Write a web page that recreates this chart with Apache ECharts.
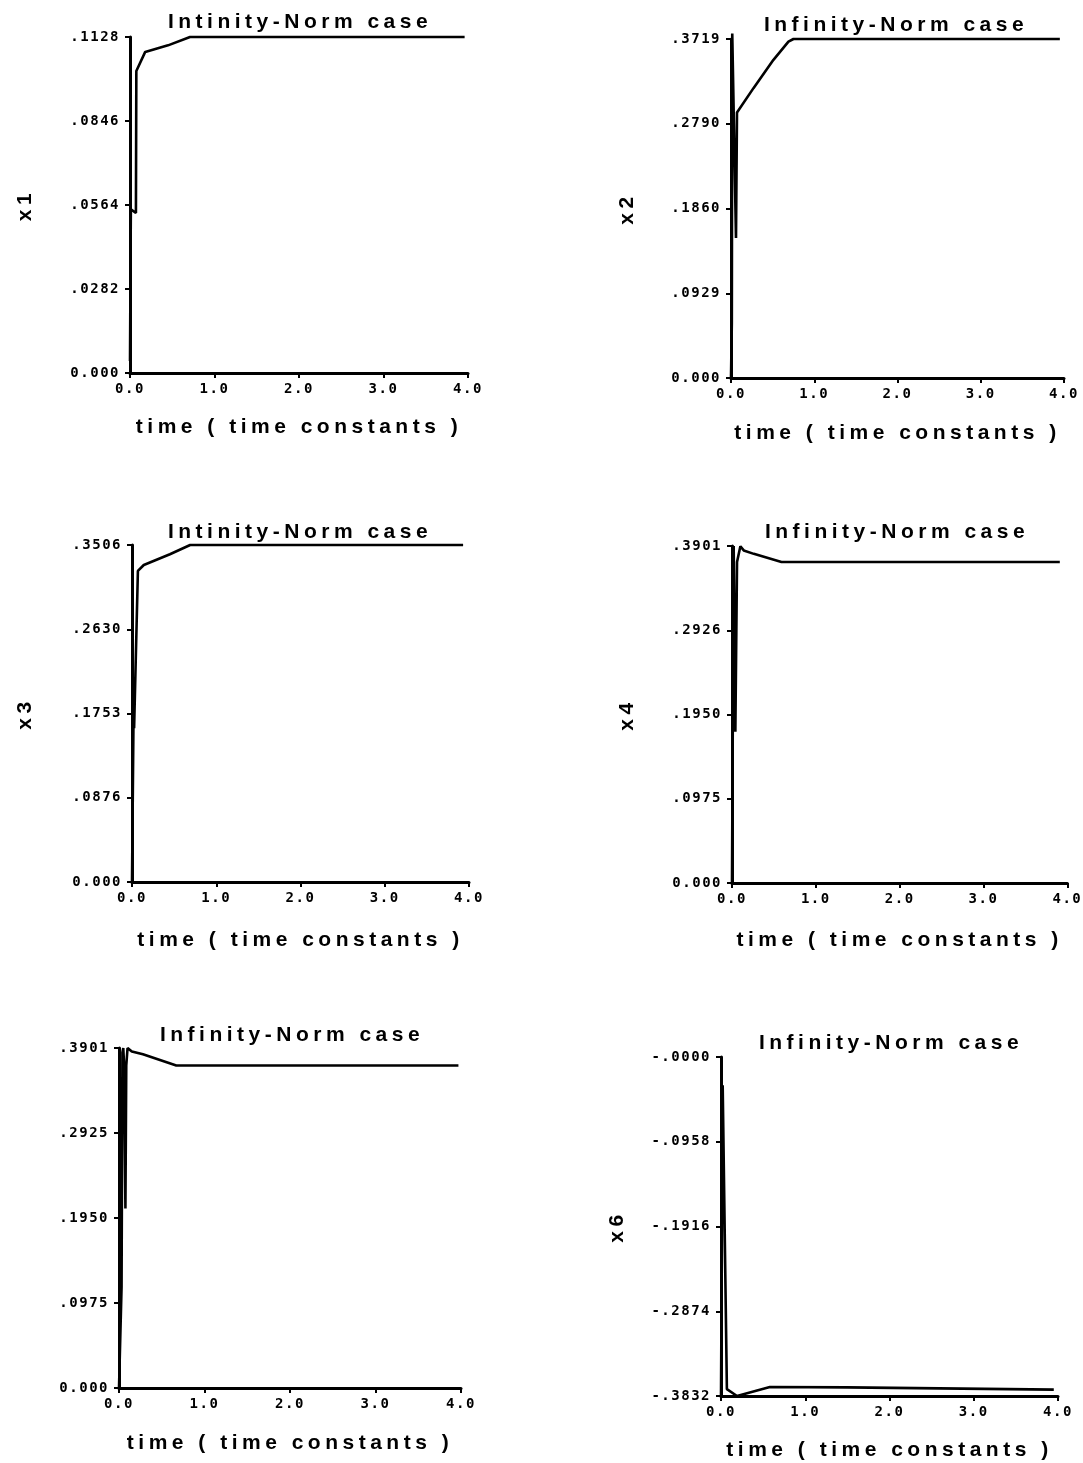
<!DOCTYPE html>
<html><head><meta charset="utf-8">
<script src="https://cdn.jsdelivr.net/npm/echarts@6/dist/echarts.min.js"></script>
<style>html,body{margin:0;padding:0;background:#fff}#c{width:1083px;height:1463px}</style>
</head><body><div id="c"></div>
<script>
// ---------------- data ----------------
const xTickLabels = ["0.0", "1.0", "2.0", "3.0", "4.0"];
const titles = ["Intinity-Norm case", "Infinity-Norm case", "Intinity-Norm case",
                "Infinity-Norm case", "Infinity-Norm case", "Infinity-Norm case"];
const yNames = ["x1", "x2", "x3", "x4", "", "x6"];
const xName = "time ( time constants )";

const yTicks1 = ["0.000", ".0282", ".0564", ".0846", ".1128"];
const yTicks2 = ["0.000", ".0929", ".1860", ".2790", ".3719"];
const yTicks3 = ["0.000", ".0876", ".1753", ".2630", ".3506"];
const yTicks4 = ["0.000", ".0975", ".1950", ".2926", ".3901"];
const yTicks5 = ["0.000", ".0975", ".1950", ".2925", ".3901"];
const yTicks6 = ["-.3832", "-.2874", "-.1916", "-.0958", "-.0000"];

const yMin = [0, 0, 0, 0, 0, -0.3832];
const yMax = [0.1128, 0.3719, 0.3506, 0.3901, 0.3901, 0];

// [time, value]
const x1 = [[0, 0.004], [0.01, 0.055], [0.07, 0.0537], [0.075, 0.1014], [0.18, 0.1078], [0.45, 0.1100], [0.71, 0.1128], [3.96, 0.1128]];
const x2 = [[0, 0], [0.01, 0.06], [0.015, 0.378], [0.06, 0.1535], [0.072, 0.2912], [0.27, 0.318], [0.51, 0.349], [0.69, 0.369], [0.75, 0.3719], [3.95, 0.3719]];
const x3 = [[0, 0], [0.02, 0.19], [0.025, 0.16], [0.07, 0.3236], [0.14, 0.3298], [0.45, 0.341], [0.69, 0.3506], [3.93, 0.3506]];
const x4 = [[0, 0], [0.02, 0.3901], [0.04, 0.175], [0.06, 0.3715], [0.08, 0.3715], [0.10, 0.3898], [0.14, 0.385], [0.26, 0.381], [0.59, 0.3715], [3.91, 0.3715]];
const x5 = [[0, 0], [0.03, 0.116], [0.04, 0.385], [0.05, 0.39], [0.06, 0.37], [0.075, 0.206], [0.085, 0.37], [0.10, 0.3901], [0.15, 0.386], [0.28, 0.383], [0.67, 0.370], [3.97, 0.370]];
const x6 = [[0, -0.3832], [0.01, -0.2204], [0.02, -0.032], [0.035, -0.032], [0.07, -0.3755], [0.19, -0.3832], [0.58, -0.373], [1.5, -0.3735], [3.95, -0.376]];

const seriesData = [x1, x2, x3, x4, x5, x6];
const yTicks = [yTicks1, yTicks2, yTicks3, yTicks4, yTicks5, yTicks6];

// ---------------- layout ----------------
const grids = [
  {left: 130, top: 37, width: 338, height: 336},
  {left: 731, top: 39, width: 333, height: 339},
  {left: 132, top: 545, width: 337, height: 337},
  {left: 732, top: 546, width: 337, height: 337},
  {left: 119, top: 1048, width: 342, height: 340},
  {left: 721, top: 1057, width: 337, height: 339}
];
const titlePos = [[300, 22], [896, 25], [300, 532], [897, 532], [292, 1035], [891, 1043]];
const yNameGap = [94, 93, 96, 94, 94, 93];
const xNameGap = [44, 45, 48, 47, 45, 44];

// wider letter spacing like the plotter lettering
(function () {
  const P = CanvasRenderingContext2D.prototype;
  const f = P.fillText;
  P.fillText = function (t, x, y, w) {
    const m = /(\d+(?:\.\d+)?)px/.exec(this.font || '');
    const sz = m ? parseFloat(m[1]) : 12;
    try { this.letterSpacing = sz >= 18 ? '4.5px' : '1.5px'; } catch (e) {}
    return w === undefined ? f.call(this, t, x, y) : f.call(this, t, x, y, w);
  };
})();

const bigFont = {fontFamily: 'Liberation Sans', fontWeight: 'bold', fontSize: 21, color: '#000'};
const tickFont = {fontFamily: 'DejaVu Sans Mono', fontWeight: 'bold', fontSize: 14, color: '#000'};

const chart = echarts.init(document.getElementById('c'), null, {renderer: 'canvas'});
const option = {
  animation: false,
  backgroundColor: '#fff',
  grid: grids.map(g => Object.assign({containLabel: false}, g)),
  xAxis: grids.map((g, i) => ({
    gridIndex: i, type: 'value', min: 0, max: 4, interval: 1,
    axisLine: {show: true, onZero: false, lineStyle: {color: '#000', width: 3}},
    axisTick: {show: true, length: 5, lineStyle: {color: '#000', width: 2}},
    axisLabel: Object.assign({margin: 9, formatter: v => xTickLabels[Math.round(v)]}, tickFont),
    splitLine: {show: false},
    name: xName, nameLocation: 'middle', nameGap: xNameGap[i],
    nameTextStyle: bigFont
  })),
  yAxis: grids.map((g, i) => {
    const mn = yMin[i], mx = yMax[i], iv = (mx - mn) / 4;
    return {
      gridIndex: i, type: 'value', min: mn, max: mx, interval: iv,
      axisLine: {show: true, onZero: false, lineStyle: {color: '#000', width: 3}},
      axisTick: {show: true, length: 5, lineStyle: {color: '#000', width: 2}},
      axisLabel: Object.assign({margin: 10, formatter: v => yTicks[i][Math.round((v - mn) / iv)]}, tickFont),
      splitLine: {show: false},
      name: yNames[i], nameLocation: 'middle', nameGap: yNameGap[i],
      nameTextStyle: bigFont
    };
  }),
  series: seriesData.map((d, i) => ({
    type: 'line', xAxisIndex: i, yAxisIndex: i, data: d,
    showSymbol: false, symbol: 'none', clip: false,
    lineStyle: {color: '#000', width: 2.6}
  })),
  graphic: titles.map((t, i) => ({
    type: 'text', x: titlePos[i][0], y: titlePos[i][1],
    style: {text: t, font: 'bold 21px "Liberation Sans"', fill: '#000',
            textAlign: 'center', textVerticalAlign: 'middle', align: 'center', verticalAlign: 'middle'}
  }))
};
chart.setOption(option);
</script>
</body></html>
